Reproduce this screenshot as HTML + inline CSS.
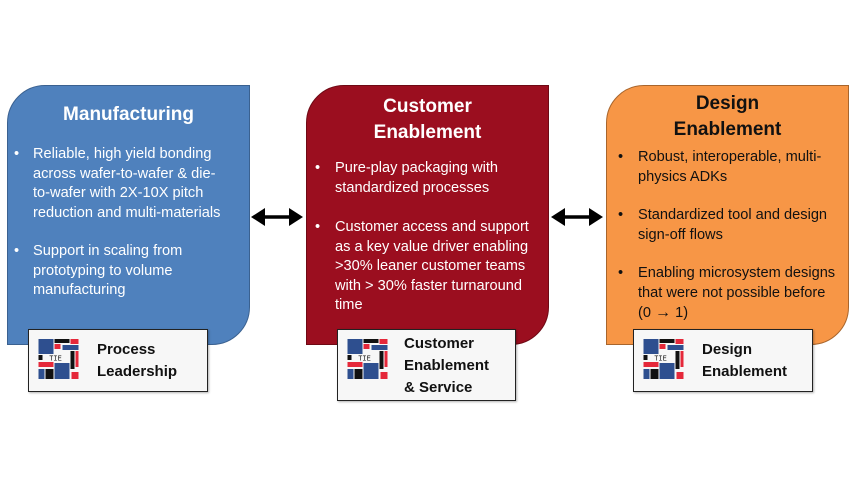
<!DOCTYPE html>
<html><head><meta charset="utf-8"><style>
body{margin:0;width:860px;height:484px;background:#fff;position:relative;overflow:hidden;font-family:"Liberation Sans",sans-serif}
.box{position:absolute;top:85px;width:243px;height:260px;border-radius:38px 0 38px 0;box-sizing:border-box;border:1.5px solid}
.t{position:absolute;font-weight:bold;font-size:19px;text-align:center;line-height:26px}
.l{position:absolute;font-size:14.6px;line-height:19.5px;white-space:nowrap}
.lab{position:absolute;background:#f7f7f7;border:1.5px solid #222;box-sizing:border-box;box-shadow:1px 1px 2px rgba(0,0,0,.3)}
.lt{position:absolute;font-weight:bold;font-size:15px;line-height:22px;white-space:nowrap;color:#111}
svg.logo{position:absolute;left:9px;top:9px}
</style></head><body>
<svg width="0" height="0" style="position:absolute"><defs><g id="lg">
<rect x="0" y="0" width="15" height="15" fill="#2e4f8f"/>
<rect x="16" y="0" width="15" height="4" fill="#111"/>
<rect x="32" y="0" width="8" height="5" fill="#e5283a"/>
<rect x="16" y="5" width="6" height="5" fill="#e5283a"/>
<rect x="24" y="6" width="16" height="5" fill="#2e4f8f"/>
<rect x="0" y="16" width="4" height="5" fill="#111"/>
<text x="17" y="21.5" font-size="7" font-family="Liberation Mono" text-anchor="middle" fill="#111">TIE</text>
<rect x="32" y="12" width="4" height="18" fill="#111"/>
<rect x="37" y="12" width="3" height="16" fill="#e5283a"/>
<rect x="0" y="23" width="15" height="5" fill="#e5283a"/>
<rect x="16" y="24" width="15" height="16" fill="#2e4f8f"/>
<rect x="0" y="30" width="6" height="10" fill="#2e4f8f"/>
<rect x="7" y="30" width="8" height="10" fill="#111"/>
<rect x="33" y="33" width="7" height="7" fill="#e5283a"/>
</g></defs></svg>

<div class="box" style="left:7px;background:#4f81bd;border-color:#3a6190"></div>
<div class="box" style="left:306px;background:#9b0e1f;border-color:#6e0914"></div>
<div class="box" style="left:606px;background:#f79646;border-color:#a8652c"></div>

<div style="color:#fff">
<div class="t" style="left:7px;width:243px;top:102px">Manufacturing</div>
<div class="l" style="left:14px;top:145px">•</div>
<div class="l" style="left:33px;top:145px">Reliable, high yield bonding<br>across wafer-to-wafer &amp; die-<br>to-wafer with 2X-10X pitch<br>reduction and multi-materials</div>
<div class="l" style="left:14px;top:242px">•</div>
<div class="l" style="left:33px;top:242px">Support in scaling from<br>prototyping to volume<br>manufacturing</div>

<div class="t" style="left:306px;width:243px;top:94px">Customer<br>Enablement</div>
<div class="l" style="left:315px;top:159px">•</div>
<div class="l" style="left:335px;top:159px">Pure-play packaging with<br>standardized processes</div>
<div class="l" style="left:315px;top:218px">•</div>
<div class="l" style="left:335px;top:218px">Customer access and support<br>as a key value driver enabling<br>&gt;30% leaner customer teams<br>with &gt; 30% faster turnaround<br>time</div>
</div>

<div style="color:#111">
<div class="t" style="left:606px;width:243px;top:91px">Design<br>Enablement</div>
<div class="l" style="left:618px;top:148px">•</div>
<div class="l" style="left:638px;top:148px">Robust, interoperable, multi-<br>physics ADKs</div>
<div class="l" style="left:618px;top:206px">•</div>
<div class="l" style="left:638px;top:206px">Standardized tool and design<br>sign-off flows</div>
<div class="l" style="left:618px;top:264px">•</div>
<div class="l" style="left:638px;top:264px">Enabling microsystem designs<br>that were not possible before<br>(0 <b style="font-size:16px">→</b> 1)</div>
</div>

<div class="lab" style="left:28px;top:329px;width:180px;height:63px">
<svg class="logo" width="41" height="40" viewBox="0 0 40 40"><use href="#lg"/></svg>
<div class="lt" style="left:68px;top:9px">Process<br>Leadership</div></div>
<div class="lab" style="left:337px;top:329px;width:179px;height:72px">
<svg class="logo" width="41" height="40" viewBox="0 0 40 40"><use href="#lg"/></svg>
<div class="lt" style="left:66px;top:3px">Customer<br>Enablement<br>&amp; Service</div></div>
<div class="lab" style="left:633px;top:329px;width:180px;height:63px">
<svg class="logo" width="41" height="40" viewBox="0 0 40 40"><use href="#lg"/></svg>
<div class="lt" style="left:68px;top:9px">Design<br>Enablement</div></div>

<svg style="position:absolute;left:0;top:0" width="860" height="484">
<g fill="#000" stroke="#000">
<line x1="262" y1="217" x2="292" y2="217" stroke-width="3.5"/>
<polygon points="251,217 265,208 265,226" stroke="none"/>
<polygon points="303,217 289,208 289,226" stroke="none"/>
<line x1="562" y1="217" x2="592" y2="217" stroke-width="3.5"/>
<polygon points="551,217 565,208 565,226" stroke="none"/>
<polygon points="603,217 589,208 589,226" stroke="none"/>
</g></svg>
</body></html>
